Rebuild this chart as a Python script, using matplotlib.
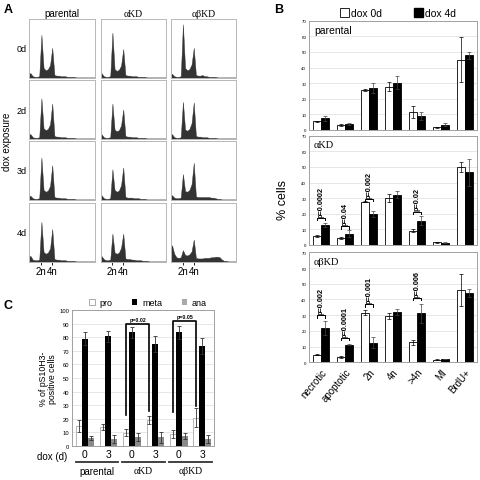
import matplotlib
matplotlib.use("Agg")
import matplotlib.pyplot as plt
from matplotlib.patches import Patch
import numpy as np

plt.rcParams['font.family'] = ['Liberation Sans', 'DejaVu Sans']
GREEK = ['Liberation Serif', 'DejaVu Serif']

# ---- panel A: DNA content histograms (30 bins, % of box height) ----
hist_cols = ["parental", "αKD", "αβKD"]
hist_rows = ["0d", "2d", "3d", "4d"]
par_0d = [8, 3, 2, 2, 3, 73, 17, 13, 15, 22, 51, 5, 4, 4, 3, 3, 3, 2, 2, 2, 2, 1, 1, 1, 1, 1, 1, 1, 1, 1]
par_2d = [8, 3, 2, 2, 3, 69, 18, 15, 17, 25, 60, 5, 4, 4, 3, 3, 3, 2, 2, 2, 2, 1, 1, 1, 1, 1, 1, 1, 1, 1]
par_3d = [7, 3, 2, 2, 3, 72, 17, 14, 16, 24, 59, 5, 4, 4, 3, 3, 3, 2, 2, 2, 2, 1, 1, 1, 1, 1, 1, 1, 1, 1]
par_4d = [10, 4, 3, 3, 4, 68, 17, 14, 16, 23, 56, 5, 4, 4, 3, 3, 3, 2, 2, 2, 2, 1, 1, 1, 1, 1, 1, 1, 1, 1]
akd_0d = [8, 3, 2, 2, 3, 77, 15, 12, 14, 21, 49, 5, 4, 4, 3, 3, 3, 2, 2, 2, 2, 1, 1, 1, 1, 1, 1, 1, 1, 1]
akd_2d = [8, 3, 2, 2, 3, 60, 16, 13, 15, 23, 50, 5, 4, 4, 3, 3, 3, 2, 2, 2, 2, 1, 1, 1, 1, 1, 1, 1, 1, 1]
akd_3d = [8, 3, 2, 2, 3, 52, 17, 14, 16, 25, 55, 5, 4, 4, 4, 3, 3, 3, 2, 2, 2, 1, 1, 1, 1, 1, 1, 1, 1, 1]
akd_4d = [10, 5, 3, 3, 4, 48, 16, 14, 16, 24, 48, 6, 5, 5, 4, 4, 3, 3, 3, 2, 2, 2, 1, 1, 1, 1, 1, 1, 1, 1]
abkd_0d = [7, 3, 2, 2, 3, 91, 17, 13, 15, 23, 51, 5, 4, 4, 5, 3, 3, 2, 2, 2, 2, 1, 1, 1, 1, 1, 1, 1, 1, 1]
abkd_2d = [8, 3, 2, 2, 3, 63, 16, 14, 17, 27, 62, 5, 4, 4, 3, 3, 3, 2, 2, 2, 2, 1, 1, 1, 1, 1, 1, 1, 1, 1]
abkd_3d = [8, 4, 3, 3, 4, 44, 15, 14, 17, 27, 63, 6, 5, 5, 5, 5, 5, 5, 4, 4, 3, 2, 2, 1, 1, 1, 1, 1, 1, 1]
abkd_4d = [28, 14, 8, 7, 8, 20, 12, 11, 13, 18, 38, 7, 6, 6, 6, 7, 7, 7, 8, 8, 9, 9, 8, 4, 2, 2, 1, 1, 1, 1]
hist_grid = [[par_0d, akd_0d, abkd_0d],
             [par_2d, akd_2d, abkd_2d],
             [par_3d, akd_3d, abkd_3d],
             [par_4d, akd_4d, abkd_4d]]

# ---- panel B: % cells, dox 0d vs dox 4d ----
cats = ["necrotic", "apoptotic", "2n", "4n", ">4n", "MI", "BrdU+"]
par_d0 = [5.5, 3.2, 25.6, 27.7, 11.4, 1.7, 45.0]
par_d0_err = [0.3, 0.4, 0.5, 3.0, 4.0, 0.3, 14.4]
par_d4 = [7.4, 3.8, 26.6, 30.4, 9.1, 3.4, 47.8]
par_d4_err = [1.7, 0.7, 3.2, 4.0, 2.5, 1.0, 2.2]
akd_d0 = [5.6, 4.3, 27.8, 30.0, 9.2, 1.7, 49.9]
akd_d0_err = [0.5, 0.7, 0.5, 2.5, 1.0, 0.3, 3.0]
akd_d4 = [12.8, 7.3, 19.7, 32.3, 15.6, 1.5, 46.5]
akd_d4_err = [1.5, 2.2, 2.0, 2.0, 3.0, 0.3, 8.5]
abkd_d0 = [4.9, 3.2, 31.5, 29.5, 12.8, 1.7, 46.0]
abkd_d0_err = [0.5, 0.7, 1.5, 2.0, 1.5, 0.3, 10.0]
abkd_d4 = [21.8, 11.3, 12.4, 32.1, 31.3, 2.1, 44.0]
abkd_d4_err = [4.5, 0.5, 3.5, 1.8, 6.0, 0.3, 2.5]
par_p = []
akd_p = [(0, "p=0.0002", 17.3), (1, "p=0.04", 12.0), (2, "p=0.002", 29.5), (4, "p=0.02", 21.4)]
abkd_p = [(0, "p=0.002", 30.0), (1, "p=0.0001", 15.4), (2, "p=0.001", 36.8), (4, "p=0.006", 41.0)]

# ---- panel C: mitotic stages ----
dox_days = ["0", "3", "0", "3", "0", "3"]
lines_c = ["parental", "αKD", "αβKD"]
pro = [14.7, 14.0, 9.8, 19.2, 9.0, 20.9]
pro_err = [4.5, 2.0, 2.5, 3.0, 3.0, 7.0]
meta = [79.0, 80.6, 83.5, 75.0, 83.5, 73.5]
meta_err = [5.0, 4.0, 4.0, 6.0, 5.0, 6.0]
ana = [5.9, 5.4, 6.9, 6.5, 7.4, 5.4]
ana_err = [1.5, 3.0, 3.0, 4.0, 2.0, 3.0]
c_brackets = [(2, 3, 23.0, 26.0, 89.7, "p=0.02"), (4, 5, 25.0, 29.5, 92.0, "p=0.05")]

W = 481.0
def box(l, t, r, b):
    return [l / W, 1 - b / W, (r - l) / W, (b - t) / W]

fig = plt.figure(figsize=(4.81, 4.81), dpi=100)

# ----- A -----
col_l = [29.5, 100.5, 171.0]
row_t = [20.0, 81.0, 142.0, 204.0]
centers = (np.arange(30) + 0.5) / 30
for r in range(4):
    for c in range(3):
        ax = fig.add_axes(box(col_l[c], row_t[r], col_l[c] + 65, row_t[r] + 59))
        h = hist_grid[r][c]
        hx = np.concatenate([[0], centers, [1]])
        hy = np.concatenate([[h[0]], h, [h[-1]]])
        ax.fill_between(hx, 0, hy, color="#333333", lw=0.3, edgecolor="#333333")
        ax.set_xlim(0, 1)
        ax.set_ylim(0, 100)
        for s in ax.spines.values():
            s.set_color("#b8b8b8")
            s.set_linewidth(0.7)
        ax.set_yticks([])
        if r == 3:
            ax.set_xticks([centers[5], centers[10]])
            ax.set_xticklabels(["2n", "4n"], fontsize=7)
            ax.tick_params(axis="x", length=2, width=0.6, pad=1)
        else:
            ax.set_xticks([])
        if r == 0:
            fam = GREEK if c > 0 else None
            ax.set_title(hist_cols[c], fontsize=7, pad=2, family=fam)
        if c == 0:
            fig.text(27 / W, 1 - (row_t[r] + 30) / W, hist_rows[r], fontsize=6.5,
                     ha="right", va="center")
fig.text(7 / W, 1 - 142 / W, "dox exposure", rotation=90, fontsize=7,
         ha="center", va="center")
fig.text(4 / W, 1 - 10 / W, "A", fontsize=9, fontweight="bold", va="center")

# ----- B -----
x = np.arange(len(cats))
bw = 0.34
b_panels = [("parental", par_d0, par_d0_err, par_d4, par_d4_err, par_p, 21.7, 131.0),
            ("αKD", akd_d0, akd_d0_err, akd_d4, akd_d4_err, akd_p, 136.7, 246.0),
            ("αβKD", abkd_d0, abkd_d0_err, abkd_d4, abkd_d4_err, abkd_p, 253.3, 363.3)]
for i, (name, d0, e0, d4, e4, pv, top, bot) in enumerate(b_panels):
    ax = fig.add_axes(box(309, top, 477, bot))
    ax.bar(x - bw / 2, d0, bw, yerr=e0, color="white", edgecolor="black", lw=0.6,
           error_kw=dict(lw=0.5, capsize=1.2, capthick=0.5), zorder=2)
    ax.bar(x + bw / 2, d4, bw, yerr=e4, color="black", edgecolor="black", lw=0.6,
           error_kw=dict(lw=0.5, capsize=1.2, capthick=0.5, ecolor="#444444"), zorder=2)
    ax.set_xlim(-0.5, 6.5)
    ax.set_ylim(0, 70)
    ax.set_yticks(range(0, 71, 10))
    ax.tick_params(axis="y", labelsize=3.2, length=0, pad=2)
    ax.grid(axis="y", color="#dddddd", lw=0.5, zorder=0)
    for s in ax.spines.values():
        s.set_color("#a0a0a0")
        s.set_linewidth(0.7)
    fam = GREEK if i > 0 else None
    ax.text(0.03, 0.96, name, transform=ax.transAxes, fontsize=7.5, va="top", family=fam)
    for k, lab, hgt in pv:
        x0, x1 = k - bw / 2, k + bw / 2
        ax.plot([x0, x0, x1, x1], [hgt - 1.5, hgt, hgt, hgt - 1.5], color="black", lw=0.7,
                zorder=3)
        ax.text(k, hgt + 0.8, lab, rotation=90, fontsize=5.3, fontweight="bold",
                ha="center", va="bottom", zorder=3)
    if i == 2:
        ax.set_xticks(x)
        ax.set_xticklabels(cats, rotation=50, ha="right", rotation_mode="anchor", fontsize=7)
        ax.tick_params(axis="x", length=0, pad=3)
    else:
        ax.set_xticks([])
fig.text(283 / W, 1 - 200 / W, "% cells", rotation=90, fontsize=9, ha="center", va="center")
fig.text(274 / W, 1 - 10 / W, "B", fontsize=9, fontweight="bold", va="center")
fig.legend([Patch(facecolor="white", edgecolor="black", lw=0.6),
            Patch(facecolor="black", edgecolor="black")],
           ["dox 0d", "dox 4d"], ncol=2, loc="center", bbox_to_anchor=(398 / W, 1 - 14 / W),
           frameon=False, fontsize=7.5, handlelength=0.9, handleheight=0.9,
           handletextpad=0.2, columnspacing=3.0, borderpad=0)

# ----- C -----
axc = fig.add_axes(box(72, 311, 214, 447))
xc = np.arange(len(dox_days))
cw = 0.25
ekw = dict(lw=0.6, capsize=1.3, capthick=0.6, ecolor="#333333")
axc.bar(xc - cw, pro, cw, yerr=pro_err, color="white", edgecolor="#999999", lw=0.5,
        error_kw=ekw, zorder=2)
axc.bar(xc, meta, cw, yerr=meta_err, color="black", error_kw=ekw, zorder=2)
axc.bar(xc + cw, ana, cw, yerr=ana_err, color="#8a8a8a", error_kw=ekw, zorder=2)
axc.set_xlim(-0.55, 5.5)
axc.set_ylim(0, 100)
axc.set_yticks(range(0, 101, 10))
axc.tick_params(axis="y", labelsize=4.2, length=0, pad=2)
axc.grid(axis="y", color="#dddddd", lw=0.5, zorder=0)
for s in axc.spines.values():
    s.set_color("#a0a0a0")
    s.set_linewidth(0.7)
for a, b, ha, hb, top, lab in c_brackets:
    xa, xb = a - cw, b - cw
    axc.plot([xa, xa, xb, xb], [ha, top, top, hb], color="black", lw=1.2, zorder=3)
    axc.text((xa + xb) / 2, top + 1.5, lab, fontsize=3.8, fontweight="bold",
             ha="center", va="bottom")
axc.set_xticks(xc)
axc.set_xticklabels(dox_days, fontsize=7.5)
axc.tick_params(axis="x", length=0, pad=2)
tr = axc.get_xaxis_transform()
for g, name in enumerate(lines_c):
    axc.plot([2 * g - 0.4, 2 * g + 1.4], [-0.118, -0.118], transform=tr, color="#333333",
             lw=1.3, clip_on=False)
    fam = GREEK if g > 0 else None
    axc.text(2 * g + 0.5, -0.145, name, transform=tr, fontsize=7, ha="center", va="top",
             family=fam)
fig.text(67 / W, 1 - 457 / W, "dox (d)", fontsize=7, ha="right", va="center")
fig.text(48 / W, 1 - 379 / W, "% of pS10H3-\npositive cells", rotation=90, fontsize=6.3,
         ha="center", va="center", linespacing=1.1)
fig.text(4 / W, 1 - 306 / W, "C", fontsize=9, fontweight="bold", va="center")
fig.legend([Patch(facecolor="white", edgecolor="#888888", lw=0.5),
            Patch(facecolor="black"), Patch(facecolor="#aaaaaa")],
           ["pro", "meta", "ana"], ncol=3, loc="center", bbox_to_anchor=(148 / W, 1 - 304 / W),
           frameon=False, fontsize=6.5, handlelength=0.6, handleheight=0.6,
           handletextpad=0.5, columnspacing=2.2, borderpad=0)

fig.savefig("out.png", dpi=100)
